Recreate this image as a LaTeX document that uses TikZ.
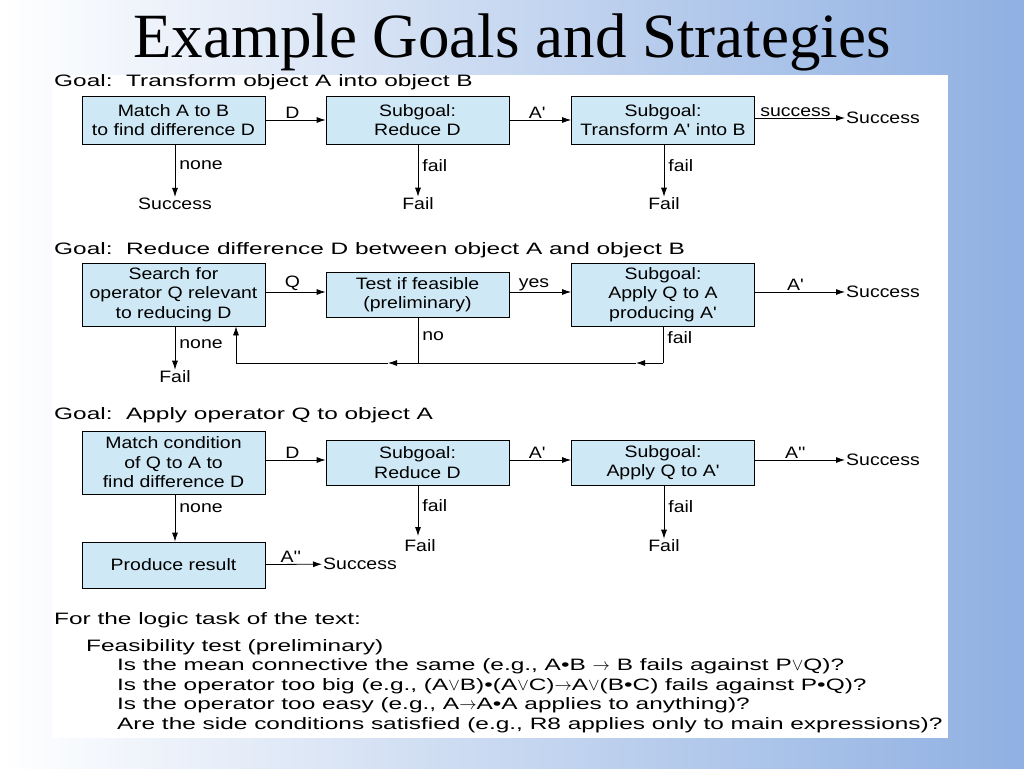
\documentclass[tikz,border=0pt]{standalone}
\usepackage{fontspec}
\setmainfont{Liberation Serif}
\newfontfamily\lab[FakeStretch=1.18]{Liberation Sans}
\newfontfamily\labw[FakeStretch=1.48]{Liberation Sans}
\usetikzlibrary{arrows.meta}
\definecolor{bx}{HTML}{CFE8F5}
\definecolor{bgb}{HTML}{8FB0E2}
\tikzset{
 box/.style={draw,fill=bx,line width=0.8pt,minimum width=183pt,align=center,font=\lab\fontsize{16.5}{19.5}\selectfont,inner sep=1pt},
 t/.style={font=\lab\fontsize{16.5}{19}\selectfont,inner sep=1pt},
 tw/.style={font=\labw\fontsize{16.5}{19}\selectfont,inner sep=1pt,anchor=west},
 ar/.style={line width=0.8pt,-{Latex[length=9pt,width=6pt]}},
 ln/.style={line width=0.8pt},
}
\begin{document}
\begin{tikzpicture}[x=1pt,y=-1pt]
\shade[left color=white,right color=bgb] (0,0) rectangle (1024,768);
\useasboundingbox (0,0) rectangle (1024,768);
\fill[white] (52,75) rectangle (948,738);
\node (title) at (512,42) {\fontsize{63}{66}\selectfont Example Goals and Strategies};
% Row 1
\node[tw] (g1) at (53,82) {Goal:\ \ Transform object A into object B};
\node[box,minimum height=48pt] (a1) at (173.5,120) {Match A to B\\to find difference D};
\node[box,minimum height=48pt] (b1) at (417.5,120) {Subgoal:\\Reduce D};
\node[box,minimum height=48pt] (c1) at (663,120) {Subgoal:\\Transform A' into B};
\node[t,anchor=west] (s1) at (845,118) {Success};
\node[t] (a1s) at (175,204) {Success};
\node[t] (b1f) at (418,204) {Fail};
\node[t] (c1f) at (664,204) {Fail};
\draw[ar] (a1) -- node[t,above,pos=0.45]{D} (b1);
\draw[ar] (b1) -- node[t,above,pos=0.45]{A'} (c1);
\draw[ar] (c1.east |- s1.west) -- node[t,above,pos=0.45]{success} (s1.west);
\draw[ar] (a1.south -| a1s) -- node[t,right,xshift=3pt,pos=0.4]{none} (a1s);
\draw[ar] (b1.south -| b1f) -- node[t,right,xshift=3pt,pos=0.4]{fail} (b1f);
\draw[ar] (c1.south -| c1f) -- node[t,right,xshift=3pt,pos=0.4]{fail} (c1f);
% Row 2
\node[tw] (g2) at (53,250) {Goal:\ \ Reduce difference D between object A and object B};
\node[box,minimum height=63pt] (a2) at (173.5,294.5) {Search for\\operator Q relevant\\to reducing D};
\node[box,minimum height=45pt] (b2) at (417.5,294.5) {Test if feasible\\(preliminary)};
\node[box,minimum height=63pt] (c2) at (663,294.5) {Subgoal:\\Apply Q to A\\producing A'};
\node[t,anchor=west] (s2) at (845,292) {Success};
\node[t] (a2f) at (175,377) {Fail};
\coordinate (lp) at (236,363);
\coordinate (bn) at (418,363);
\coordinate (cn) at (663,363);
\draw[ar] (a2.east |- 0,292) -- node[t,above,pos=0.45]{Q} (b2.west |- 0,292);
\draw[ar] (b2.east |- 0,292) -- node[t,above,pos=0.4]{yes} (c2.west |- 0,292);
\draw[ar] (c2.east |- 0,292) -- node[t,above,pos=0.45]{A'} (s2.west);
\draw[ar] (a2.south -| a2f) -- node[t,right,xshift=3pt,pos=0.4]{none} (a2f);
\draw[ln] (b2.south -| bn) -- node[t,right,xshift=3pt,pos=0.4]{no} (bn);
\draw[ln] (c2.south -| cn) -- node[t,right,xshift=3pt,pos=0.3]{fail} (cn);
\draw[ar] (cn) -- (636,363);
\draw[ln] (636,363) -- (bn);
\draw[ar] (bn) -- (388,363);
\draw[ar] (388,363) -- (lp) -- (a2.south -| lp);
% Row 3
\node[tw] (g3) at (53,415) {Goal:\ \ Apply operator Q to object A};
\node[box,minimum height=63pt] (a3) at (173.5,462.5) {Match condition\\of Q to A to\\find difference D};
\node[box,minimum height=45pt] (b3) at (417.5,462.5) {Subgoal:\\Reduce D};
\node[box,minimum height=45pt] (c3) at (663,462.5) {Subgoal:\\Apply Q to A'};
\node[t,anchor=west] (s3) at (845,460) {Success};
\node[t] (b3f) at (420,546) {Fail};
\node[t] (c3f) at (664,546) {Fail};
\draw[ar] (a3.east |- 0,460) -- node[t,above,pos=0.45]{D} (b3.west |- 0,460);
\draw[ar] (b3.east |- 0,460) -- node[t,above,pos=0.45]{A'} (c3.west |- 0,460);
\draw[ar] (c3.east |- 0,460) -- node[t,above,pos=0.45]{A''} (s3.west);
\draw[ar] (b3.south -| 418,0) -- node[t,right,xshift=3pt,pos=0.4]{fail} (418,536);
\draw[ar] (c3.south -| c3f) -- node[t,right,xshift=3pt,pos=0.4]{fail} (c3f);
\node[box,minimum height=46pt] (a4) at (173.5,565) {Produce result};
\draw[ar] (a3.south -| 175,0) -- node[t,right,xshift=3pt,pos=0.3]{none} (a4.north -| 175,0);
\node[t,anchor=west] (s4) at (322,564) {Success};
\draw[ar] (a4) -- node[t,above,pos=0.45]{A''} (s4);
% Text
\begin{scope}[every node/.style={tw}]
\node (x1) at (53,620) {For the logic task of the text:};
\node (x2) at (85,647) {Feasibility test (preliminary)};
\node (x3) at (116,666) {Is the mean connective the same (e.g., A\textbullet B $\rightarrow$ B fails against P$\vee$Q)?};
\node (x4) at (116,686) {Is the operator too big (e.g., (A$\vee$B)\textbullet(A$\vee$C)$\rightarrow$A$\vee$(B\textbullet C) fails against P\textbullet Q)?};
\node (x5) at (116,705) {Is the operator too easy (e.g., A$\rightarrow$A\textbullet A applies to anything)?};
\node (x6) at (116,725) {Are the side conditions satisfied (e.g., R8 applies only to main expressions)?};
\end{scope}
\end{tikzpicture}
\end{document}
